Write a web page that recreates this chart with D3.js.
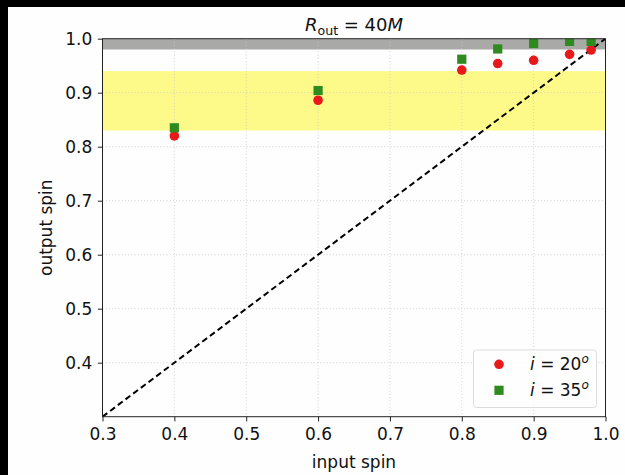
<!DOCTYPE html>
<html>
<head>
<meta charset="utf-8">
<script src="https://cdn.jsdelivr.net/npm/d3@7"></script>
<style>
  html, body { margin: 0; padding: 0; background: #000; }
  svg { display: block; }
  text { font-family: "DejaVu Sans", sans-serif; fill: #111; }
</style>
</head>
<body>
<svg id="chart" width="625" height="475"></svg>
<script>
// Spin measurements: input spin vs recovered output spin, two inclinations
const inputSpin = [0.4, 0.6, 0.8, 0.85, 0.9, 0.95, 0.98];
const spinI20 = [0.82, 0.886, 0.942, 0.954, 0.96, 0.971, 0.979];
const spinI35 = [0.835, 0.904, 0.962, 0.981, 0.991, 0.995, 0.995];

const xTicks = [0.3, 0.4, 0.5, 0.6, 0.7, 0.8, 0.9, 1.0];
const yTicks = [0.4, 0.5, 0.6, 0.7, 0.8, 0.9, 1.0];

// shaded ranges [low, high]
const yellowBand = [0.83, 0.94];
const greyBand = [0.98, 1.0];

const seriesLabels = ["20", "35"];

const svg = d3.select("#chart");
const W = 625, H = 475;

// figure canvas (white) on black
svg.append("rect").attr("width", W).attr("height", H).attr("fill", "#000");
svg.append("rect").attr("x", 8).attr("y", 7).attr("width", W - 8).attr("height", H - 7).attr("fill", "#fdfefd");

const plot = { left: 102.5, right: 605.5, top: 38.7, bottom: 416.7 };

const x = d3.scaleLinear().domain([0.3, 1.0]).range([plot.left, plot.right]);
const y = d3.scaleLinear().domain([0.3, 1.0]).range([plot.bottom, plot.top]);

svg.append("clipPath").attr("id", "plotclip")
  .append("rect")
  .attr("x", plot.left).attr("y", plot.top)
  .attr("width", plot.right - plot.left).attr("height", plot.bottom - plot.top);

const inner = svg.append("g").attr("clip-path", "url(#plotclip)");

// bands
inner.append("rect")
  .attr("x", plot.left).attr("width", plot.right - plot.left)
  .attr("y", y(yellowBand[1])).attr("height", y(yellowBand[0]) - y(yellowBand[1]))
  .attr("fill", "#fefa8a");
inner.append("rect")
  .attr("x", plot.left).attr("width", plot.right - plot.left)
  .attr("y", y(greyBand[1])).attr("height", y(greyBand[0]) - y(greyBand[1]))
  .attr("fill", "#a9aaa8");

// grid
const grid = inner.append("g").attr("stroke", "#c8c8c8").attr("stroke-width", 0.8)
  .attr("stroke-dasharray", "1,2.2");
grid.selectAll("line.gx").data(xTicks.slice(1, -1)).enter().append("line")
  .attr("x1", d => x(d)).attr("x2", d => x(d))
  .attr("y1", plot.top).attr("y2", plot.bottom);
grid.selectAll("line.gy").data(yTicks.slice(0, -1)).enter().append("line")
  .attr("y1", d => y(d)).attr("y2", d => y(d))
  .attr("x1", plot.left).attr("x2", plot.right);

// one-to-one line
inner.append("line")
  .attr("x1", x(0.3)).attr("y1", y(0.3))
  .attr("x2", x(1.0)).attr("y2", y(1.0))
  .attr("stroke", "#000").attr("stroke-width", 2)
  .attr("stroke-dasharray", "6,3.6");

const red = "#e8191b", green = "#2f8a1f";
const pts20 = inputSpin.map((s, i) => [s, spinI20[i]]);
const pts35 = inputSpin.map((s, i) => [s, spinI35[i]]);

inner.selectAll("circle.r").data(pts20).enter().append("circle")
  .attr("cx", d => x(d[0])).attr("cy", d => y(d[1])).attr("r", 4.8)
  .attr("fill", red);
const sq = 9.2;
inner.selectAll("rect.g").data(pts35).enter().append("rect")
  .attr("x", d => x(d[0]) - sq / 2).attr("y", d => y(d[1]) - sq / 2)
  .attr("width", sq).attr("height", sq)
  .attr("fill", green);

// axes
const fs = 17;
const xAxis = d3.axisBottom(x).tickValues(xTicks).tickFormat(d3.format(".1f")).tickSize(4.7).tickPadding(7);
const yAxis = d3.axisLeft(y).tickValues(yTicks).tickFormat(d3.format(".1f")).tickSize(4.7).tickPadding(5.5);

const gx = svg.append("g").attr("transform", `translate(0,${plot.bottom})`).call(xAxis);
const gy = svg.append("g").attr("transform", `translate(${plot.left},0)`).call(yAxis);
[gx, gy].forEach(g => {
  g.select(".domain").remove();
  g.selectAll(".tick line").attr("stroke", "#222").attr("stroke-width", 1);
  g.selectAll(".tick text").attr("font-size", fs).attr("font-family", "DejaVu Sans").attr("fill", "#111");
});

// frame
svg.append("rect")
  .attr("x", plot.left).attr("y", plot.top)
  .attr("width", plot.right - plot.left).attr("height", plot.bottom - plot.top)
  .attr("fill", "none").attr("stroke", "#222").attr("stroke-width", 1);

// axis labels
svg.append("text").attr("x", (plot.left + plot.right) / 2).attr("y", 468)
  .attr("text-anchor", "middle").attr("font-size", fs).text("input spin");
svg.append("text")
  .attr("transform", `translate(52,${(plot.top + plot.bottom) / 2}) rotate(-90)`)
  .attr("text-anchor", "middle").attr("font-size", fs).text("output spin");

// title
const title = svg.append("text").attr("x", (plot.left + plot.right) / 2).attr("y", 31)
  .attr("text-anchor", "middle").attr("font-size", 18);
title.append("tspan").attr("font-style", "italic").text("R");
title.append("tspan").attr("font-size", 12.6).attr("dy", 4).text("out");
title.append("tspan").attr("dy", -4).text(" = 40");
title.append("tspan").attr("font-style", "italic").text("M");

// legend
const leg = svg.append("g");
leg.append("rect").attr("x", 473.5).attr("y", 350).attr("width", 123).attr("height", 57.5)
  .attr("rx", 3).attr("fill", "#fdfefd").attr("fill-opacity", 0.85)
  .attr("stroke", "#dddddd").attr("stroke-width", 1);
const rows = [
  { color: red, shape: "circle", label: seriesLabels[0], yy: 364.3 },
  { color: green, shape: "square", label: seriesLabels[1], yy: 390.3 }
];
rows.forEach(r => {
  if (r.shape === "circle") {
    leg.append("circle").attr("cx", 499).attr("cy", r.yy).attr("r", 4.8).attr("fill", r.color);
  } else {
    leg.append("rect").attr("x", 499 - sq / 2).attr("y", r.yy - sq / 2).attr("width", sq).attr("height", sq).attr("fill", r.color);
  }
  const t = leg.append("text").attr("x", 530).attr("y", r.yy + 6).attr("font-size", fs);
  t.append("tspan").attr("font-style", "italic").text("i");
  t.append("tspan").text(" = " + r.label);
  t.append("tspan").attr("font-style", "italic").attr("font-size", 12).attr("dy", -7).text("o");
});
</script>
</body>
</html>
